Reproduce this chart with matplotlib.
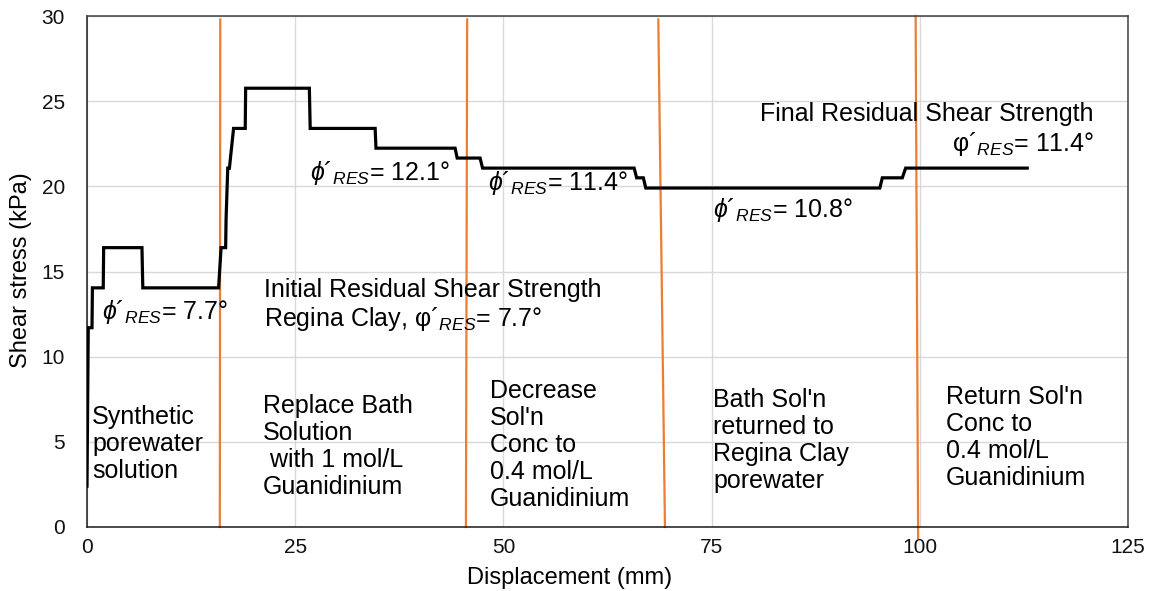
import matplotlib
matplotlib.use('Agg')
import matplotlib.pyplot as plt

plt.rcParams['font.family'] = ['Liberation Sans', 'DejaVu Sans']
plt.rcParams['mathtext.fontset'] = 'custom'
plt.rcParams['mathtext.rm'] = 'Liberation Sans'
plt.rcParams['mathtext.it'] = 'Liberation Sans:italic'
plt.rcParams['mathtext.bf'] = 'Liberation Sans:bold'

# ---- data ----
displacement = [0.0, 0.15, 0.6, 0.65, 1.95, 2.0, 6.6, 6.7, 15.8, 16.1, 16.65, 16.7,
                16.9, 17.1, 17.6, 19.0, 19.05, 26.7, 26.8, 34.6, 34.7, 44.2, 44.45,
                47.2, 47.5, 65.7, 66.0, 66.8, 67.1, 95.2, 95.5, 97.9, 98.3, 112.9]
shear_stress = [2.4, 11.7, 11.7, 14.04, 14.04, 16.4, 16.4, 14.04, 14.04, 16.4, 16.4, 18.1,
                21.07, 21.07, 23.4, 23.4, 25.76, 25.76, 23.4, 23.4, 22.24, 22.24, 21.66,
                21.66, 21.07, 21.07, 20.5, 20.5, 19.9, 19.9, 20.5, 20.5, 21.07, 21.07]

boundary_top_x = [16.0, 45.65, 68.6, 99.5]
boundary_bottom_x = [15.95, 45.5, 69.4, 99.8]
boundary_top_y = [29.8, 29.8, 29.8, 30.0]
boundary_bottom_y = [0.0, 0.0, 0.0, -0.65]

x_ticks = [0, 25, 50, 75, 100, 125]
y_ticks = [0, 5, 10, 15, 20, 25, 30]

stage_labels = ["Synthetic\nporewater\nsolution",
                "Replace Bath\nSolution\n with 1 mol/L\nGuanidinium",
                "Decrease\nSol'n\nConc to\n0.4 mol/L\nGuanidinium",
                "Bath Sol'n\nreturned to\nRegina Clay\nporewater",
                "Return Sol'n\nConc to\n0.4 mol/L\nGuanidinium"]
phi_labels = ["$\\phi$´$_{RES}$= 7.7°", "$\\phi$´$_{RES}$= 12.1°",
              "$\\phi$´$_{RES}$= 11.4°", "$\\phi$´$_{RES}$= 10.8°"]
initial_label = "Initial Residual Shear Strength\nRegina Clay, φ´$_{RES}$= 7.7°"
final_label = "Final Residual Shear Strength\nφ´$_{RES}$= 11.4°"

# ---- figure ----
fig = plt.figure(figsize=(11.51, 5.91), dpi=100)
ax = fig.add_axes([87 / 1151, 64 / 591, 1041 / 1151, 511 / 591])

ax.set_xlim(0, 125)
ax.set_ylim(0, 30)
ax.set_xticks(x_ticks)
ax.set_yticks(y_ticks)
ax.grid(True, color='#d9d9d9', lw=1.0, zorder=0)
ax.set_axisbelow(True)
for name, s in ax.spines.items():
    s.set_color('#1a1a1a' if name in ('left', 'bottom') else '#404040')
    s.set_linewidth(1.1)
ax.tick_params(length=0, labelsize=15, colors='#111111')
ax.tick_params(axis='y', pad=16)
ax.tick_params(axis='x', pad=8)

ax.set_xlabel("Displacement (mm)", fontsize=17)
ax.set_ylabel("Shear stress (kPa)", fontsize=17)
ax.xaxis.set_label_coords((570 - 87) / 1041, -0.078)
ax.yaxis.set_label_coords((32 - 87) / 1041, 0.503)

# boundary lines
for xt, xb, yt, yb in zip(boundary_top_x, boundary_bottom_x, boundary_top_y, boundary_bottom_y):
    ax.plot([xt, xb], [yt, yb], color='#ED7D31', lw=1.6, zorder=2, clip_on=False)

# main curve
ax.plot(displacement, shear_stress, color='black', lw=2.3, zorder=3,
        solid_joinstyle='miter')

fs = 18
ls = 1.16
stage_pos = [(0.6, 4.86), (21.15, 4.75), (48.4, 4.83), (75.2, 5.07), (103.1, 5.27)]
for (x, y), t in zip(stage_pos, stage_labels):
    ax.text(x, y, t, fontsize=fs, ha='left', va='center', linespacing=ls, zorder=4)

phi_pos = [(1.8, 12.6), (26.8, 20.8), (48.1, 20.2), (75.2, 18.6)]
for (x, y), t in zip(phi_pos, phi_labels):
    ax.text(x, y, t, fontsize=fs, ha='left', va='center', zorder=4)

ax.text(21.3, 13.0, initial_label, fontsize=fs, ha='left', va='center',
        linespacing=ls, zorder=4)
ax.text(120.9, 23.3, final_label, fontsize=fs, ha='right', va='center',
        multialignment='right', linespacing=ls, zorder=4)

fig.savefig('out.png', dpi=100)
